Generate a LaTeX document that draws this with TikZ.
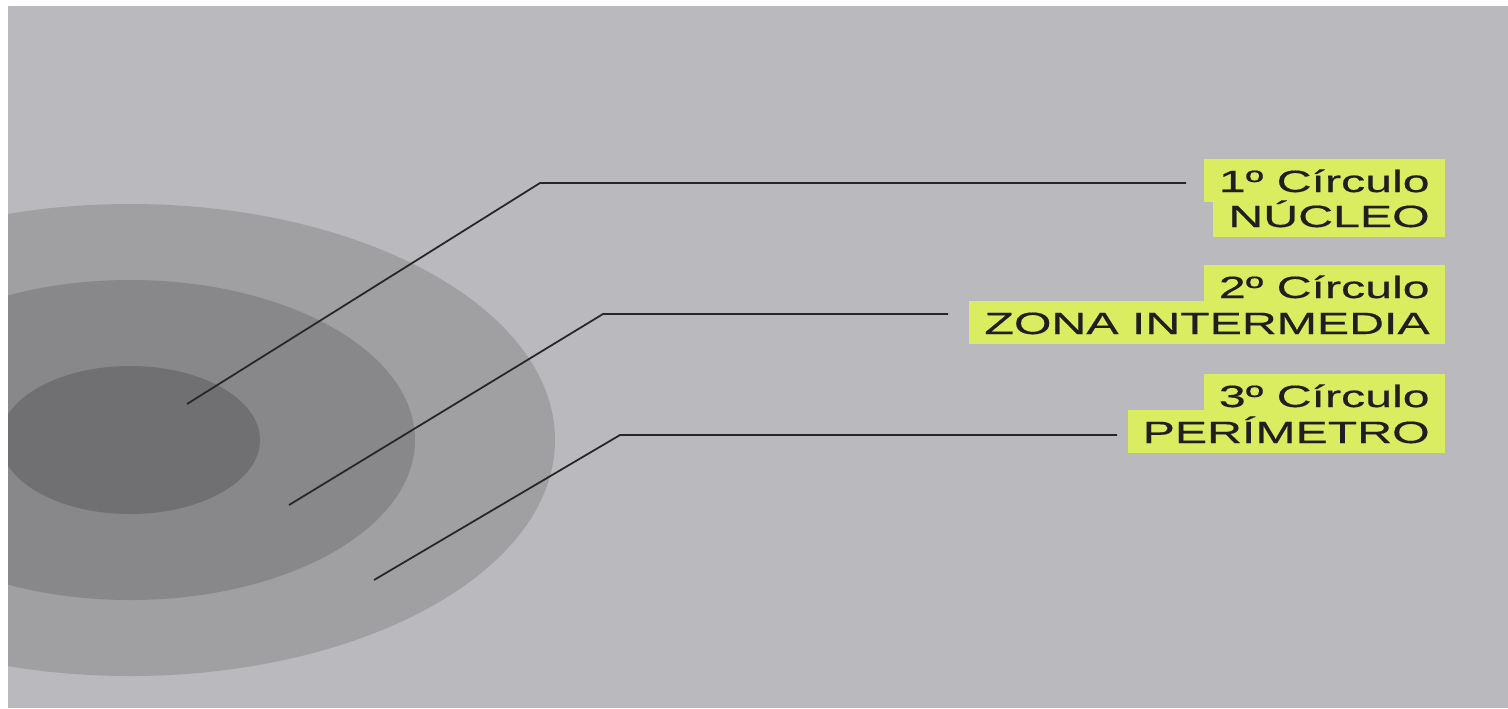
\documentclass[tikz,border=0pt]{standalone}
\usepackage{fontspec}
\newfontfamily\labelfont[FakeStretch=1.57,FakeBold=0.5]{Liberation Sans}
\definecolor{papel}{RGB}{186,186,190}
\definecolor{anillo3}{RGB}{160,160,162}
\definecolor{anillo2}{RGB}{136,136,138}
\definecolor{anillo1}{RGB}{112,112,114}
\definecolor{resalte}{RGB}{218,236,96}

\begin{document}
\begin{tikzpicture}[x=0.02cm, y=-0.02cm,
  marca/.style={fill=resalte, text=black!88, anchor=base east, inner xsep=0.3cm, inner ysep=0pt,
    text height=0.66cm, text depth=0.19cm, font=\labelfont\fontsize{17.5}{20}\selectfont},
  guia/.style={line width=1pt, black!85}]
  \useasboundingbox (0,0) rectangle (1508,708);
  \fill[white] (0,0) rectangle (1508,708);
  \fill[papel] (8,6) rectangle (1508,708);
  \begin{scope}
    \clip (8,6) rectangle (1508,708);
    \fill[anillo3] (130,440) ellipse (425 and 236);
    \fill[anillo2] (130,440) ellipse (285 and 160);
    \fill[anillo1] (130,440) ellipse (130 and 74);
  \end{scope}

  \node[marca] (c1) at (1445,192) {1º Círculo};
  \node[marca] (n1) at (1445,227) {NÚCLEO};
  \node[marca] (c2) at (1445,298) {2º Círculo};
  \node[marca] (z2) at (1445,334) {ZONA INTERMEDIA};
  \node[marca] (c3) at (1445,407) {3º Círculo};
  \node[marca] (p3) at (1445,443) {PERÍMETRO};

  \coordinate (p1) at (187,404);
  \coordinate (b1) at (540,183);
  \coordinate (e1) at (1186,183);
  \coordinate (p2) at (289,505);
  \coordinate (b2) at (603,314);
  \coordinate (e2) at (948,314);
  \coordinate (p3) at (374,580);
  \coordinate (b3) at (620,435);
  \coordinate (e3) at (1117,435);
  \draw[guia] (p1) -- (b1) -- (e1);
  \draw[guia] (p2) -- (b2) -- (e2);
  \draw[guia] (p3) -- (b3) -- (e3);
\end{tikzpicture}
\end{document}
